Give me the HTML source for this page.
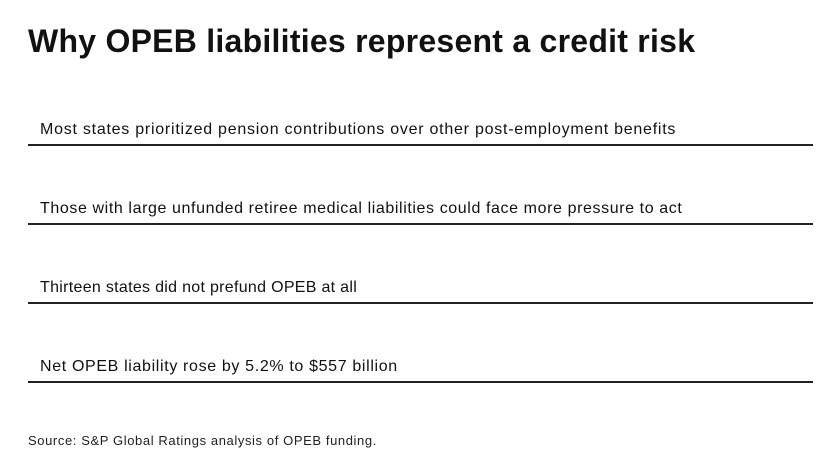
<!DOCTYPE html>
<html><head><style>
body{margin:0;width:840px;height:473px;background:#fff;font-family:"Liberation Sans",sans-serif;color:#111;position:relative;overflow:hidden}
.t{position:absolute;left:28px;top:23px;font-size:32px;font-weight:bold;letter-spacing:0.25px}
.r{position:absolute;left:28px;width:785px;border-bottom:2px solid #222;height:30px}
.r span{position:absolute;left:12px;top:7px;font-size:16px;letter-spacing:0.75px}
.s{position:absolute;left:28px;top:433px;font-size:13px;color:#222;letter-spacing:0.6px}
</style></head><body>
<div class="t">Why OPEB liabilities represent a credit risk</div>
<div class="r" style="top:114px"><span>Most states prioritized pension contributions over other post-employment benefits</span></div>
<div class="r" style="top:193px"><span style="letter-spacing:0.6px">Those with large unfunded retiree medical liabilities could face more pressure to act</span></div>
<div class="r" style="top:272px"><span style="letter-spacing:0.3px">Thirteen states did not prefund OPEB at all</span></div>
<div class="r" style="top:351px"><span style="letter-spacing:0.65px">Net OPEB liability rose by 5.2% to $557 billion</span></div>
<div class="s">Source: S&amp;P Global Ratings analysis of OPEB funding.</div>
</body></html>
